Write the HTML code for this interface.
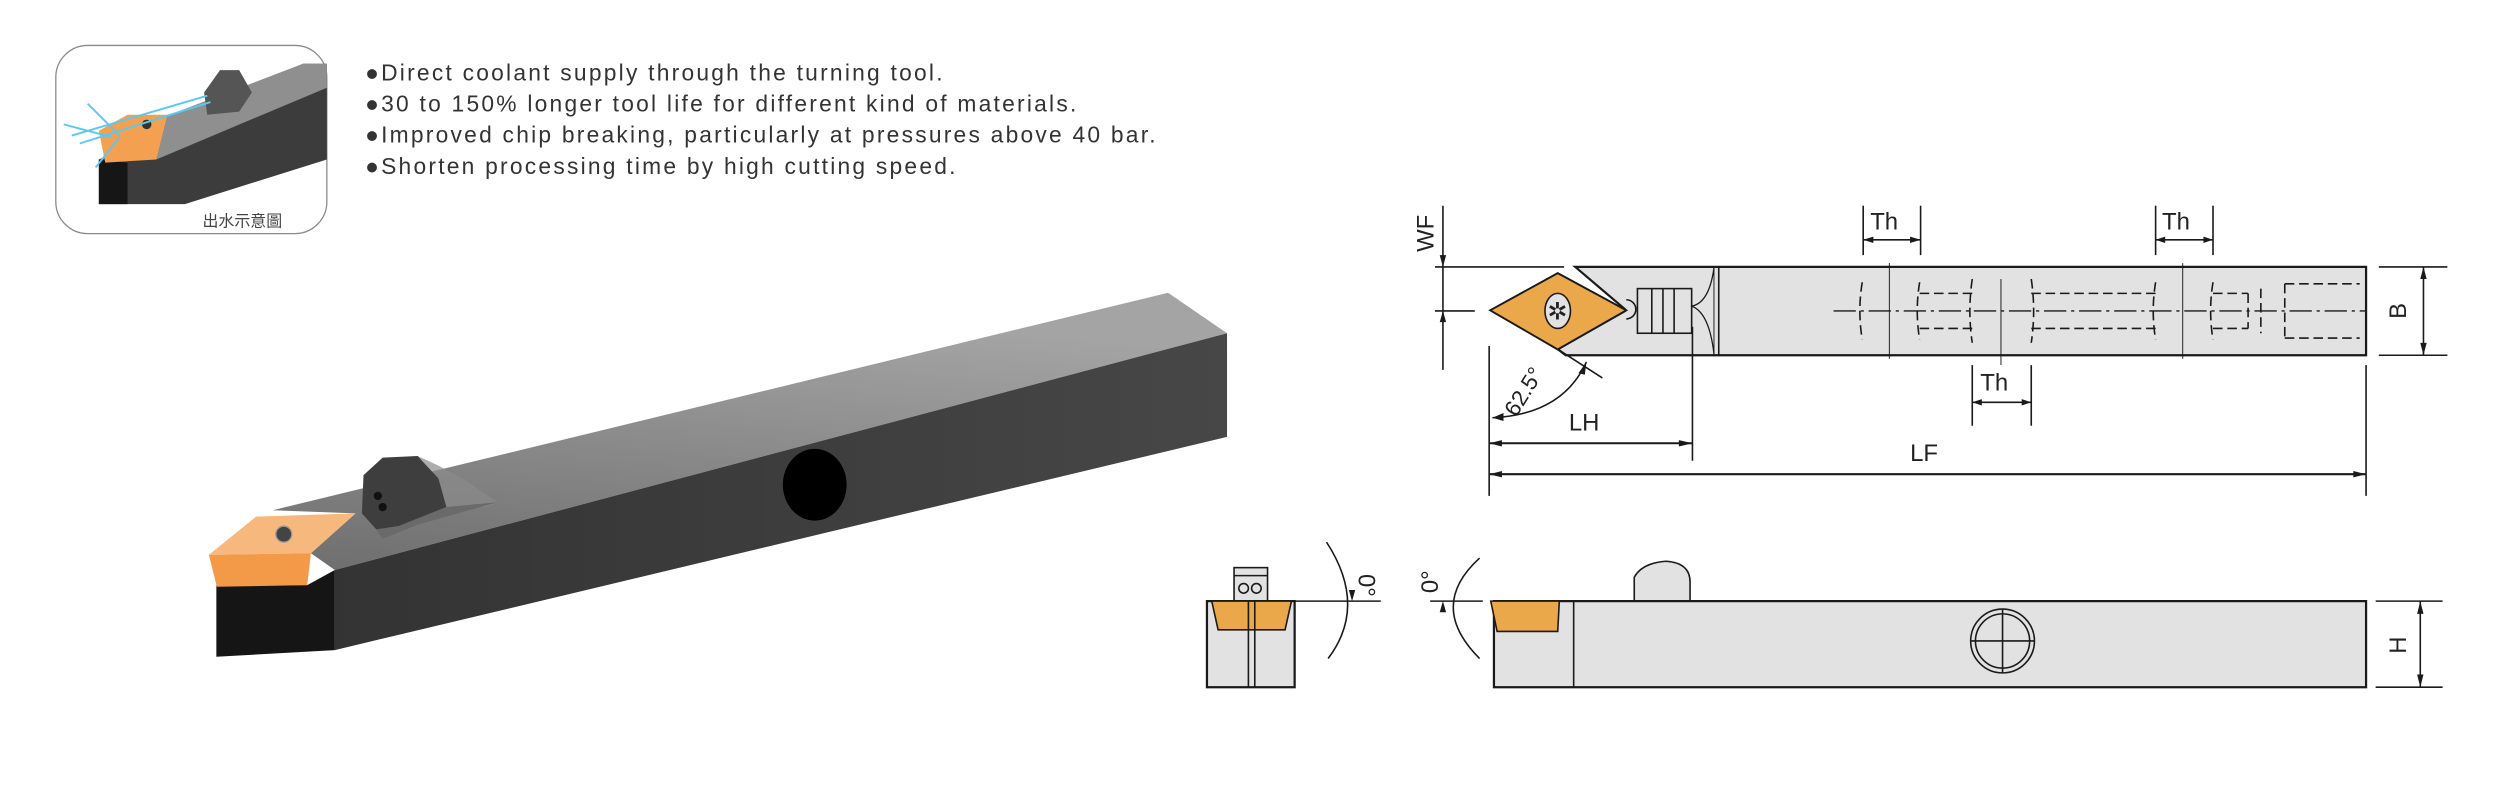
<!DOCTYPE html>
<html><head><meta charset="utf-8"><style>
html,body{margin:0;padding:0;background:#fff;}
svg{display:block;}
</style></head><body>
<svg width="2500" height="810" viewBox="0 0 1568 508" preserveAspectRatio="none" xmlns="http://www.w3.org/2000/svg">
<defs>
<linearGradient id="tg" x1="0" y1="1" x2="0.3" y2="0"><stop offset="0" stop-color="#6e6e6e"/><stop offset="1" stop-color="#a4a4a4"/></linearGradient>
<linearGradient id="sg" x1="0" y1="0" x2="1" y2="0"><stop offset="0" stop-color="#333"/><stop offset="1" stop-color="#474747"/></linearGradient>
</defs>
<rect width="1568" height="508" fill="#fff"/>

<!-- inset -->
<rect x="35" y="28.5" width="170" height="118" rx="20" fill="#fff" stroke="#8a8a8a" stroke-width="0.8"/>
<polygon points="62,100 62,128 116,128 205,100 205,40 190,40" fill="#3c3c3c"/>
<polygon points="62,100 62,128 80,128 80,102" fill="#161616"/>
<polygon points="80,82 190,40 205,40 205,55 98,100" fill="#8f8f8f"/>
<polygon points="62,82 80,72 105,72 98,100 66,102" fill="#f3a050"/>
<polygon points="128,58 138,44 150,44 158,58 150,70 130,72" fill="#555"/>
<circle cx="92" cy="78" r="3" fill="#333"/>
<path d="M45,85 L130,60 M50,90 L132,64 M40,78 L70,86 M55,65 L75,85 M60,105 L75,86" stroke="#5ac8f0" stroke-width="1.2"/>
<text x="127" y="142" font-family="'Liberation Sans','Noto Sans CJK TC',sans-serif" font-size="10" fill="#444">出水示意圖</text>

<!-- bullets -->
<g font-family="'Liberation Sans',sans-serif" font-size="14.3" fill="#333" letter-spacing="1.4">
<text x="229" y="50.5">●Direct coolant supply through the turning tool.</text>
<text x="229" y="70">●30 to 150% longer tool life for different kind of materials.</text>
<text x="229" y="89.5">●Improved chip breaking, particularly at pressures above 40 bar.</text>
<text x="229" y="109">●Shorten processing time by high cutting speed.</text>
</g>

<!-- 3D bar -->
<polygon points="171,320 732.6,183.6 769.6,209 210,357.5 195,347 223,322" fill="url(#tg)"/>
<polygon points="210,357.5 769.6,209 769.6,274 210,407.7" fill="url(#sg)"/>
<polygon points="135.7,367 192.7,367 210,357.5 210,407.7 135.7,411.9" fill="#151515"/>
<polygon points="131,348 160.6,324 223,322 195,347" fill="#f6b87c"/>
<polygon points="131,348 195,347 192.7,367 136,368" fill="#f39a48"/>
<circle cx="178" cy="335" r="5" fill="#444" stroke="#999" stroke-width="0.8"/>
<polygon points="227,322 228,298 240,287 262,286 275,300 280,318 250,330 236,332" fill="#3e3e3e"/>
<polygon points="262,286 275,300 280,318 305,318 312,315 290,300 275,292" fill="#8a8a8a" opacity="0.7"/>
<polygon points="236,332 250,330 280,318 312,315 262,329 240,338" fill="#6a6a6a"/>
<circle cx="237" cy="311" r="2.6" fill="#111"/><circle cx="240" cy="318" r="2.6" fill="#111"/>
<ellipse cx="511" cy="304" rx="20" ry="22.5" fill="#000"/>

<!-- technical drawing -->
<g stroke="#1a1a1a" fill="none" stroke-width="1">
<polygon points="988,167.4 1484,167.4 1484,222.8 982,222.8 977,219 1020,194.6" fill="#e2e2e2" stroke-width="1.4"/>
<line x1="1078" y1="167.4" x2="1078" y2="222.8"/>
<line x1="1075" y1="167.4" x2="1075" y2="222.8" stroke-width="0.6"/>
<path d="M1075,168 Q1072,190 1061,192 Q1072,196 1075,222" stroke-width="0.8"/>
<rect x="1027" y="181" width="34" height="28" fill="#e2e2e2"/>
<line x1="1036" y1="181" x2="1036" y2="209"/><line x1="1043" y1="181" x2="1043" y2="209"/><line x1="1050" y1="181" x2="1050" y2="209"/>
<path d="M1020,188 a6,6 0 0 1 0,12" fill="#e2e2e2"/>
<polygon points="934.6,194.6 977,171.3 1020,194.6 977,219.2" fill="#eaa84a" stroke-width="1.2"/>
<ellipse cx="977" cy="195" rx="8" ry="11" fill="#e2e2e2"/>
<text x="970.5" y="200.5" font-size="15" fill="#222" stroke="none" font-family="'DejaVu Sans',sans-serif">✲</text>
<line x1="1150" y1="195" x2="1484" y2="195" stroke-dasharray="14,3,2,3" stroke-width="0.8"/>
<g stroke-dasharray="6,3" stroke-width="1">
<path d="M1168,177 Q1165,195 1168,213 M1204,177 Q1201,195 1204,213 M1352,177 Q1349,195 1352,213 M1388,177 Q1385,195 1388,213"/>
<path d="M1237,175 Q1234,195 1237,215 M1274,175 Q1277,195 1274,215"/>
<line x1="1204" y1="184" x2="1237" y2="184"/><line x1="1204" y1="206" x2="1237" y2="206"/>
<line x1="1274" y1="184" x2="1352" y2="184"/><line x1="1274" y1="206" x2="1352" y2="206"/>
<line x1="1388" y1="184" x2="1410" y2="184"/><line x1="1388" y1="206" x2="1410" y2="206"/>
<path d="M1410,184 L1410,206 M1418,181 L1418,209 M1433,178 L1480,178 M1433,212 L1480,212 M1433,178 L1433,212"/>
</g>
<line x1="1185" y1="165" x2="1185" y2="225" stroke-width="0.6"/><line x1="1369" y1="165" x2="1369" y2="225" stroke-width="0.6"/><line x1="1255" y1="175" x2="1255" y2="229" stroke-width="0.6"/>
<line x1="1168.6" y1="129" x2="1168.6" y2="160"/><line x1="1204.6" y1="129" x2="1204.6" y2="160"/>
<line x1="1168.6" y1="150.4" x2="1204.6" y2="150.4"/>
<line x1="1352" y1="129" x2="1352" y2="160"/><line x1="1388" y1="129" x2="1388" y2="160"/>
<line x1="1352" y1="150.4" x2="1388" y2="150.4"/>
<line x1="1237" y1="229" x2="1237" y2="267"/><line x1="1274" y1="229" x2="1274" y2="267"/>
<line x1="1237" y1="252.3" x2="1274" y2="252.3"/>
<line x1="934" y1="217" x2="934" y2="311"/><line x1="1484" y1="229" x2="1484" y2="311"/><line x1="1061.5" y1="205" x2="1061.5" y2="289"/>
<line x1="934" y1="278" x2="1061.5" y2="278" stroke-width="1.3"/>
<line x1="934" y1="297.4" x2="1484" y2="297.4" stroke-width="1.3"/>
<line x1="905" y1="129" x2="905" y2="232"/>
<line x1="900" y1="167.4" x2="981" y2="167.4"/><line x1="900" y1="195" x2="925" y2="195"/>
<line x1="1520" y1="167.4" x2="1520" y2="222.8"/>
<line x1="1492" y1="167.4" x2="1535" y2="167.4"/><line x1="1492" y1="222.8" x2="1535" y2="222.8"/>
<line x1="977" y1="219" x2="1005" y2="237"/>
<path d="M936,262 Q980,260 995,227"/>
</g>
<g fill="#1a1a1a">
<polygon points="1168.6,150.4 1175,148.4 1175,152.4"/><polygon points="1204.6,150.4 1198,148.4 1198,152.4"/>
<polygon points="1352,150.4 1358,148.4 1358,152.4"/><polygon points="1388,150.4 1382,148.4 1382,152.4"/>
<polygon points="1237,252.3 1243,250.3 1243,254.3"/><polygon points="1274,252.3 1268,250.3 1268,254.3"/>
<polygon points="934,278 942,276 942,280"/><polygon points="1061.5,278 1053,276 1053,280"/>
<polygon points="934,297.4 942,295.4 942,299.4"/><polygon points="1484,297.4 1476,295.4 1476,299.4"/>
<polygon points="905,167.4 903,160 907,160"/><polygon points="905,195 903,202 907,202"/>
<polygon points="1520,167.4 1518,175 1522,175"/><polygon points="1520,222.8 1518,215 1522,215"/>
<polygon points="936,262 943,259 943,264"/><polygon points="995,227 990,234 994,235"/>
</g>
<g font-family="'Liberation Sans',sans-serif" font-size="15" fill="#222">
<text x="1173" y="144">Th</text><text x="1356" y="144">Th</text><text x="1242" y="245">Th</text>
<text x="984" y="270">LH</text><text x="1198" y="289">LF</text>
<text transform="translate(899,158) rotate(-90)">WF</text>
<text transform="translate(1509,200) rotate(-90)">B</text>
<text transform="translate(951,262) rotate(-58)" font-size="14">62.5°</text>
</g>

<!-- side view -->
<g stroke="#1a1a1a" fill="none" stroke-width="1">
<path d="M1025,377 L1025,362 Q1030,353 1045,352 Q1060,353 1060,365 L1060,377 Z" fill="#e2e2e2"/>
<rect x="937" y="377" width="547" height="54" fill="#e2e2e2" stroke-width="1.4"/>
<line x1="987" y1="377" x2="987" y2="431"/>
<polygon points="935,377 978,377 977,396 939,396" fill="#eaa84a"/>
<ellipse cx="1256" cy="402" rx="20" ry="20"/><ellipse cx="1256" cy="402" rx="17" ry="17"/>
<line x1="1256" y1="382" x2="1256" y2="422"/><line x1="1236" y1="402" x2="1276" y2="402"/>
<line x1="1490" y1="377" x2="1532" y2="377"/><line x1="1490" y1="431" x2="1532" y2="431"/>
<line x1="1518" y1="377" x2="1518" y2="431"/>
<line x1="897" y1="377" x2="930" y2="377"/>
<path d="M928,350 Q895,380 928,413"/>
<rect x="774" y="356" width="21" height="21" fill="#e2e2e2"/>
<circle cx="780" cy="369" r="3"/><circle cx="788" cy="369" r="3"/>
<line x1="774" y1="361" x2="795" y2="361"/>
<rect x="757" y="377" width="55" height="54" fill="#e2e2e2" stroke-width="1.4"/>
<polygon points="760,377 810,377 806,395 764,395" fill="#eaa84a"/>
<line x1="783" y1="377" x2="783" y2="431"/><line x1="787" y1="377" x2="787" y2="431"/>
<line x1="812" y1="377" x2="866" y2="377"/>
<path d="M832,340 Q858,380 833,413"/>
</g>
<g fill="#1a1a1a">
<polygon points="1518,377 1516,385 1520,385"/><polygon points="1518,431 1516,423 1520,423"/>
<polygon points="848,377 846,370 850,370"/><polygon points="905,377 903,384 907,384"/>
</g>
<g font-family="'Liberation Sans',sans-serif" font-size="15" fill="#222">
<text transform="translate(1509,410) rotate(-90)">H</text>
<text transform="translate(852,360) rotate(90)">0°</text>
<text transform="translate(902,372) rotate(-90)">0°</text>
</g>
</svg>
</body></html>
